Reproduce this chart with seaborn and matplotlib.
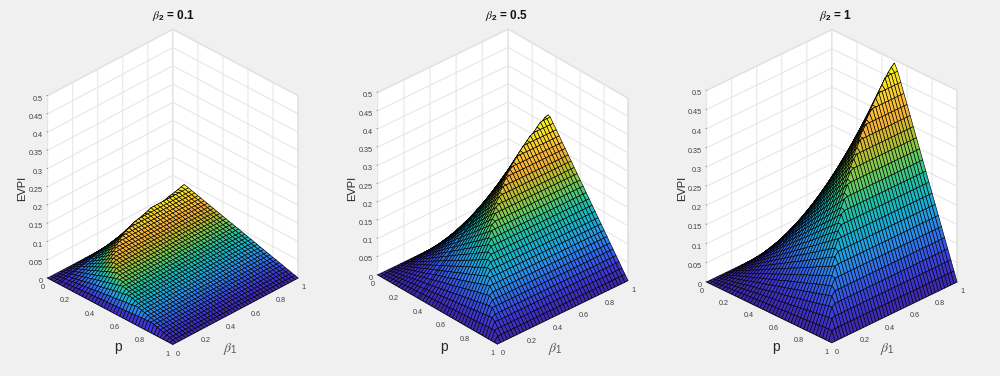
import numpy as np
import matplotlib
matplotlib.use("Agg")
import matplotlib.pyplot as plt
import seaborn as sns

sns.set_theme(style="white")
plt.rcParams.update({
    "font.family": ["Liberation Sans", "DejaVu Sans"],
    "mathtext.fontset": "custom",
    "mathtext.rm": "Liberation Sans",
    "mathtext.it": "STIXGeneral:italic",
    "mathtext.bf": "Liberation Sans:bold",
    "axes3d.automargin": False,
    "grid.color": "#e4e4e4",
    "grid.linewidth": 0.7,
    "xtick.major.width": 0.4,
    "ytick.major.width": 0.4,
    "xtick.color": "#555555",
    "ytick.color": "#555555",
})

BG = "#f0f0f0"
TITLES = [r"$\beta_{\mathbf{2}}$ = 0.1", r"$\beta_{\mathbf{2}}$ = 0.5", r"$\beta_{\mathbf{2}}$ = 1"]
P_TICKS = [0, 0.2, 0.4, 0.6, 0.8, 1]
P_LABELS = ["0", "0.2", "0.4", "0.6", "0.8", "1"]
Z_TICKS = [0, 0.05, 0.1, 0.15, 0.2, 0.25, 0.3, 0.35, 0.4, 0.45, 0.5]
Z_LABELS = ["0", "0.05", "0.1", "0.15", "0.2", "0.25", "0.3", "0.35", "0.4", "0.45", "0.5"]
PARULA = ["#3e26a8", "#3e37d7", "#3264eb", "#2896eb", "#14b4cd", "#23c3a0",
          "#6ecd5a", "#bebe2d", "#faaf37", "#fad22d", "#f9fb15"]

beta1 = [0, .025, .05, .075, .1, .125, .15, .175, .2, .225, .25, .275, .3, .325, .35, .375, .4, .425, .45, .475,
         .5, .525, .55, .575, .6, .625, .65, .675, .7, .725, .75, .775, .8, .825, .85, .875, .9, .925, .95, .975, 1]
p_a = [0, .025, .05, .075, .091, .125, .15, .175, .2, .225, .25, .275, .3, .325, .35, .375, .4, .425, .45, .475,
       .5, .525, .55, .575, .6, .625, .65, .675, .7, .725, .75, .775, .8, .825, .85, .875, .9, .925, .95, .975, 1]
p_b = [0, .025, .05, .075, .1, .125, .15, .175, .2, .225, .25, .275, .3, .333, .35, .375, .4, .425, .45, .475,
       .5, .525, .55, .575, .6, .625, .65, .675, .7, .725, .75, .775, .8, .825, .85, .875, .9, .925, .95, .975, 1]
p_c = beta1

# EVPI, in thousandths; one row per p, one column per beta1
evpi_c = [
    [0]*41,
    [0,1,1,2,3,3,4,4,5,6,6,7,8,8,9,9,10,11,11,12,13,13,14,14,15,16,16,17,18,18,19,19,20,21,21,22,23,23,24,24,25],
    [0,1,3,4,5,6,8,9,10,11,13,14,15,16,18,19,20,21,23,24,25,26,28,29,30,31,33,34,35,36,38,39,40,41,43,44,45,46,48,49,50],
    [0,2,4,6,8,9,11,13,15,17,19,21,23,24,26,28,30,32,34,36,38,39,41,43,45,47,49,51,53,54,56,58,60,62,64,66,68,69,71,73,75],
    [0,3,5,8,10,13,15,18,20,23,25,28,30,33,35,38,40,43,45,48,50,53,55,58,60,63,65,68,70,73,75,78,80,83,85,88,90,93,95,98,100],
    [0,3,6,9,13,16,19,22,25,28,31,34,38,41,44,47,50,53,56,59,63,66,69,72,75,78,81,84,88,91,94,97,100,103,106,109,113,116,119,122,125],
    [0,4,8,11,15,19,23,26,30,34,38,41,45,49,53,56,60,64,68,71,75,79,83,86,90,94,98,101,105,109,113,116,120,124,128,131,135,139,143,146,150],
    [0,4,9,13,18,22,26,31,35,39,44,48,53,57,61,66,70,74,79,83,88,92,96,101,105,109,114,118,123,127,131,136,140,144,149,153,158,162,166,171,175],
    [0,5,10,15,20,25,30,35,40,45,50,55,60,65,70,75,80,85,90,95,100,105,110,115,120,125,130,135,140,145,150,155,160,165,170,175,180,185,190,195,200],
    [0,6,11,17,23,28,34,39,45,51,56,62,68,73,79,84,90,96,101,107,113,118,124,129,135,141,146,152,158,163,169,174,180,186,191,197,203,208,214,219,225],
    [0,6,13,19,25,31,38,44,50,56,63,69,75,81,88,94,100,106,113,119,125,131,138,144,150,156,163,169,175,181,188,194,200,206,213,219,225,231,238,244,250],
    [0,7,14,21,28,34,41,48,55,62,69,76,83,89,96,103,110,117,124,131,138,144,151,158,165,172,179,186,193,199,206,213,220,227,234,241,248,254,261,268,275],
    [0,8,15,23,30,38,45,53,60,68,75,83,90,98,105,113,120,128,135,143,150,158,165,173,180,188,195,203,210,218,225,233,240,248,255,263,270,278,285,293,300],
    [0,8,16,24,33,41,49,57,65,73,81,89,98,106,114,122,130,138,146,154,163,171,179,187,195,203,211,219,228,236,244,252,260,268,276,284,293,301,309,317,325],
    [0,9,18,26,35,44,53,61,70,79,88,96,105,114,123,131,140,149,158,166,175,184,193,201,210,219,228,236,245,254,263,271,280,289,298,306,315,324,333,341,350],
    [0,9,19,28,38,47,56,66,75,84,94,103,113,122,131,141,150,159,169,178,188,197,206,216,225,234,244,253,263,272,281,291,300,309,319,328,338,347,356,366,375],
    [0,10,20,30,40,50,60,70,80,90,100,110,120,130,140,150,160,170,180,190,200,210,220,230,240,250,260,270,280,290,300,310,320,330,340,350,360,370,380,390,400],
    [0,11,21,32,43,53,64,74,85,96,106,117,128,138,149,159,170,181,191,202,213,223,234,244,255,266,276,287,298,308,319,329,340,351,361,372,383,393,404,414,425],
    [0,11,23,34,45,56,68,79,90,101,113,124,135,146,158,169,180,191,203,214,225,236,248,259,270,281,293,304,315,326,338,349,360,371,383,394,405,416,428,439,450],
    [0,12,24,36,48,59,71,83,95,107,119,131,143,154,166,178,190,202,214,226,238,249,261,273,285,297,309,321,333,344,356,368,380,392,404,416,428,439,451,463,475],
    [0,13,25,38,50,63,75,88,100,113,125,138,150,163,175,188,200,213,225,238,250,263,275,288,300,313,325,338,350,363,375,388,400,413,425,438,450,463,475,485,492],
    [0,13,26,39,53,66,79,92,105,118,131,144,158,171,184,197,210,223,236,249,263,276,289,302,315,328,341,354,368,381,394,407,420,433,446,459,473] + [475]*4,
    [0,14,28,41,55,69,83,96,110,124,138,151,165,179,193,206,220,234,248,261,275,289,303,316,330,344,358,371,385,399,413,426,440] + [450]*8,
    [0,14,29,43,58,72,86,101,115,129,144,158,173,187,201,216,230,244,259,273,288,302,316,331,345,359,374,388,403,417] + [425]*11,
    [0,15,30,45,60,75,90,105,120,135,150,165,180,195,210,225,240,255,270,285,300,315,330,345,360,375,390] + [400]*14,
    [0,16,31,47,63,78,94,109,125,141,156,172,188,203,219,234,250,266,281,297,313,328,344,359] + [375]*17,
    [0,16,33,49,65,81,98,114,130,146,163,179,195,211,228,244,260,276,293,309,325,341] + [350]*19,
    [0,17,34,51,68,84,101,118,135,152,169,186,203,219,236,253,270,287,304,321] + [325]*21,
    [0,18,35,53,70,88,105,123,140,158,175,193,210,228,245,263,280,298] + [300]*23,
    [0,18,36,54,73,91,109,127,145,163,181,199,218,236,254,272] + [275]*25,
    [0,19,38,56,75,94,113,131,150,169,188,206,225,244] + [250]*27,
    [0,19,39,58,78,97,116,136,155,174,194,213] + [225]*29,
    [0,20,40,60,80,100,120,140,160,180] + [200]*31,
    [0,21,41,62,83,103,124,144,165] + [175]*32,
    [0,21,43,64,85,106,128,149] + [150]*33,
    [0,22,44,66,88,109] + [125]*35,
    [0,23,45,68,90] + [100]*36,
    [0,23,46,69] + [75]*37,
    [0,24,48] + [50]*38,
    [0,24] + [25]*39,
    [0]*41,
]

# For the other two panels each row follows the same rise, then stays level:
# rise_n = grid cells on the rise, level = the flat EVPI value after it
rise_a = [41,41,41,41,41,28,23,19,16,14,12,11,10,9,8,7,6,6,5,5,4,4,4,3,3,3,3,2,2,2,2,2,1,1,1,1,1,1,1,1,1]
level_a = [0,0,0,0,0,88,85,83,80,78,75,73,70,68,65,63,60,58,55,53,50,48,45,43,40,38,35,33,30,28,25,23,20,18,15,13,10,8,5,3,0]
rise_b = [41]*14 + [38,34,30,28,25,23,20,19,17,15,14,12,11,10,9,8,7,6,5,5,4,3,3,2,2,1,1]
level_b = [0]*14 + [325,313,300,288,275,263,250,238,225,213,200,188,175,163,150,138,125,113,100,88,75,63,50,38,25,13,0]
row_a_peak = [0,2,5,7,9,11,14,16,18,20,23,25,27,30,32,34,36,39,41,43,45,48,50,52,55,57,59,61,64,66,68,70,73,75,77,80,82,84,86,89,91]
row_b_peak = [0,8,17,25,33,42,50,58,67,75,83,92,100,108,117,125,133,142,150,158,167,175,183,192,200,208,217,225,233,242,250,258,267,275,283,292,300,308,317,325,328]

evpi_a = [r[:n] + [v]*(41 - n) for r, n, v in zip(evpi_c, rise_a, level_a)]
evpi_b = [r[:n] + [v]*(41 - n) for r, n, v in zip(evpi_c, rise_b, level_b)]
evpi_a[4] = row_a_peak
evpi_b[13] = row_b_peak

panels = [(p_a, evpi_a, 32, -45, 215, 0.992), (p_b, evpi_b, 32, -42.5, 215, 0.992), (p_c, evpi_c, 29, -45, 219, 1.0)]
ax_left_px = [7, 337, 666]
ax_bottom_px = [23.3, 23.6, 24]
title_x = [173, 506, 836]
zlabel_x = [22, 352, 682]
plabel_x = [118, 444, 776]
blabel_x = [230, 555, 887]

cmap = sns.blend_palette(PARULA, as_cmap=True)
fig = plt.figure(figsize=(10, 3.76), dpi=100, facecolor=BG)
W, H = 1000, 376
for k, (p, evpi, elev, azim, z_aspect, zoom) in enumerate(panels):
    ax = fig.add_axes([ax_left_px[k]/W, ax_bottom_px[k]/H, 323/W, 323/H],
                      projection="3d", proj_type="ortho", facecolor="none")
    ax.view_init(elev=elev, azim=azim)
    ax.set_box_aspect((177, 177, z_aspect), zoom=zoom)
    X, Y = np.meshgrid(p, beta1, indexing="ij")
    Z = np.array(evpi) / 1000
    ax.plot_surface(X, Y, Z, rstride=1, cstride=1, cmap=cmap, vmin=0, vmax=Z.max(),
                    edgecolor="black", linewidth=0.45, antialiased=True, shade=False)
    ax.set_xlim(0, 1)
    ax.set_ylim(0, 1)
    ax.set_zlim(0, 0.5)
    ax.set_xticks(P_TICKS, P_LABELS, ha="right")
    ax.set_yticks(P_TICKS, P_LABELS, ha="left")
    ax.set_zticks(Z_TICKS, Z_LABELS, ha="right")
    ax.tick_params(axis="both", labelsize=5.2, labelcolor="#404040", pad=-5)
    ax.tick_params(axis="z", pad=-5.8)
    ax.zaxis._axinfo["juggled"] = (1, 0, 2)
    for axis in (ax.xaxis, ax.yaxis, ax.zaxis):
        axis.set_pane_color("white")
        axis.pane.set_edgecolor("#dcdcdc")
        axis.line.set_color("#555555")
        axis.line.set_linewidth(0.6)
        axis._axinfo["tick"]["inward_factor"] = 0.0
        axis._axinfo["tick"]["outward_factor"] = 0.1
    fig.text(title_x[k]/W, 1-15.5/H, TITLES[k], ha="center", va="center",
             fontsize=8.5, fontweight="bold", color="#111111")
    fig.text(zlabel_x[k]/W, 1-188/H, "EVPI", rotation=90, ha="center", va="center",
             fontsize=8, color="#262626")
    fig.text(plabel_x[k]/W, 1-347/H, "p", ha="center", va="center", fontsize=10, color="#262626")
    fig.text(blabel_x[k]/W, 1-349/H, r"$\beta_1$", ha="center", va="center", fontsize=10, color="#555555")

fig.savefig("out.png", dpi=100, facecolor=BG)
